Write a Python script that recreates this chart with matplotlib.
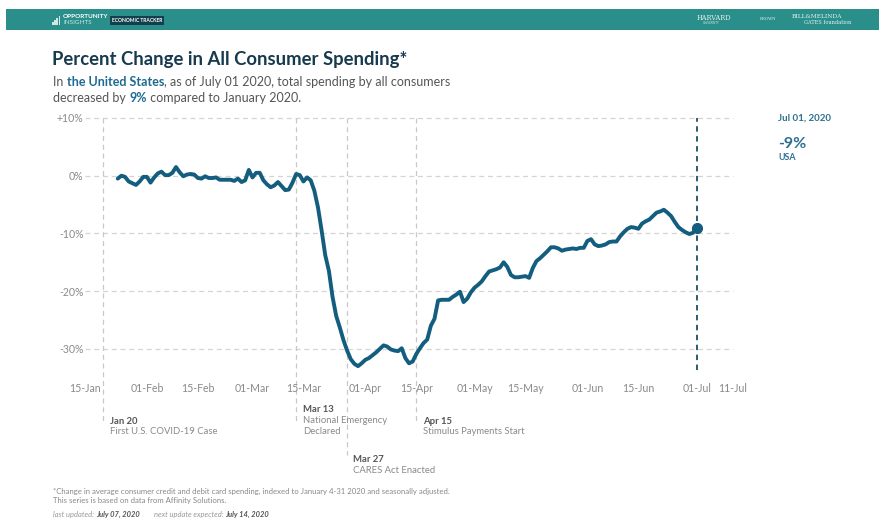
import datetime as dt
import numpy as np
import matplotlib.pyplot as plt
import matplotlib.dates as mdates
from matplotlib.patches import Rectangle

# data: daily % change in consumer spending, starting Jan 24 2020
start = dt.date(2020, 1, 24)
spending = [
    -0.5, 0.0, -0.2, -1.0, -1.3, -1.6, -1.0, -0.2, -0.2, -1.2,
    -0.3, 0.4, 0.7, 0.1, 0.1, 0.5, 1.5, 0.6, -0.1, 0.2,
    0.3, 0.2, -0.4, -0.5, -0.1, -0.4, -0.4, -0.3, -0.7, -0.7,
    -0.7, -0.7, -0.9, -0.5, -1.1, -0.8, 1.0, -0.3, 0.5, 0.5,
    -0.8, -1.5, -2.0, -1.7, -1.1, -1.8, -2.5, -2.4, -1.2, 0.3,
    0.1, -1.0, -0.3, -0.8, -2.6, -5.5, -9.5, -13.8, -16.5, -21.0,
    -24.3, -26.3, -28.5, -30.3, -31.8, -32.6, -33.0, -32.5, -31.9, -31.6,
    -31.1, -30.6, -30.0, -29.4, -29.6, -30.1, -30.3, -30.4, -29.9, -31.6,
    -32.5, -32.2, -30.9, -29.9, -29.0, -28.4, -26.0, -24.8, -21.6, -21.5,
    -21.5, -21.5, -21.0, -20.6, -20.1, -21.9, -21.3, -20.2, -19.4, -18.9,
    -18.3, -17.4, -16.6, -16.4, -16.2, -15.9, -15.0, -15.8, -17.2, -17.6,
    -17.6, -17.5, -17.4, -17.7, -16.0, -14.8, -14.3, -13.7, -13.1, -12.4,
    -12.4, -12.6, -13.0, -12.8, -12.7, -12.6, -12.7, -12.5, -12.5, -11.3,
    -11.0, -11.9, -12.2, -12.1, -11.9, -11.5, -11.4, -11.4, -10.5, -9.8,
    -9.2, -8.9, -9.0, -9.2, -8.3, -7.9, -7.6, -7.0, -6.4, -6.2,
    -5.9, -6.4, -7.0, -8.0, -8.9, -9.4, -9.8, -10.1, -9.9, -9.1,
]
dates = [start + dt.timedelta(days=i) for i in range(len(spending))]

tick_dates = [dt.date(2020, 1, 15), dt.date(2020, 2, 1), dt.date(2020, 2, 15),
              dt.date(2020, 3, 1), dt.date(2020, 3, 15), dt.date(2020, 4, 1),
              dt.date(2020, 4, 15), dt.date(2020, 5, 1), dt.date(2020, 5, 15),
              dt.date(2020, 6, 1), dt.date(2020, 6, 15), dt.date(2020, 7, 1),
              dt.date(2020, 7, 11)]
y_ticks = [10, 0, -10, -20, -30]
y_labels = ["+10%", "0%", "-10%", "-20%", "-30%"]

events = [dt.date(2020, 1, 20), dt.date(2020, 3, 13), dt.date(2020, 3, 27), dt.date(2020, 4, 15)]
event_titles = ["Jan 20", "Mar 13", "Mar 27", "Apr 15"]
event_texts = ["First U.S. COVID-19 Case", "National Emergency\nDeclared",
               "CARES Act Enacted", "Stimulus Payments Start"]

plt.rcParams['font.family'] = ['Lato', 'DejaVu Sans']

W, H = 884, 523
LINE = "#135d7e"
GREY = "#8a8a8a"

fig = plt.figure(figsize=(W / 100, H / 100), dpi=100)

def fx(px):
    return px / W

def fy(py):
    return 1 - py / H

# header bar
fig.patches.append(Rectangle((fx(6), fy(30)), fx(873), 21 / H, transform=fig.transFigure,
                             facecolor="#2a8f8a", edgecolor="none"))
for i, h in enumerate([3, 5, 7, 9]):
    fig.patches.append(Rectangle((fx(52 + i * 2.2), fy(25)), 1.6 / W, h / H,
                                 transform=fig.transFigure, facecolor="#cfe7e5", edgecolor="none"))
fig.text(fx(63), fy(16), "OPPORTUNITY", color="white", fontsize=4.6, fontweight="bold", va="center")
fig.text(fx(63), fy(22.5), "INSIGHTS", color="#cfe7e5", fontsize=4.6, va="center")
fig.text(fx(112), fy(20.5), "ECONOMIC TRACKER", color="white", fontsize=3.6, fontweight="bold",
         va="center", bbox=dict(boxstyle="square,pad=0.35", fc="#113f4e", ec="none"))
fig.text(fx(697), fy(17.5), "HARVARD", color="#e4f1f0", fontsize=4.8, family="DejaVu Serif", va="center")
fig.text(fx(703), fy(22.5), "UNIVERSITY", color="#cfe7e5", fontsize=2.2, va="center")
fig.text(fx(760), fy(18.5), "BROWN", color="#e4f1f0", fontsize=2.8, family="DejaVu Serif", va="center")
fig.text(fx(792), fy(16.5), "BILL&MELINDA", color="#e4f1f0", fontsize=4.2, family="DejaVu Serif", va="center")
fig.text(fx(804), fy(22.5), "GATES foundation", color="#e4f1f0", fontsize=3.6, family="DejaVu Serif", va="center")

# title and subtitle
fig.text(fx(52), fy(60), "Percent Change in All Consumer Spending*", fontsize=13.3,
         fontweight="bold", color="#173a4f", va="center")

renderer = fig.canvas.get_renderer()

def rich_line(x_px, y_px, parts, size=9.0):
    x = fx(x_px)
    for txt, bold in parts:
        t = fig.text(x, fy(y_px), txt, fontsize=size, va="center",
                     fontweight="bold" if bold else "normal",
                     color="#1d6a92" if bold else "#555555")
        bb = t.get_window_extent(renderer=renderer)
        x += bb.width / W

rich_line(53, 82, [("In ", False), ("the United States", True),
                   (", as of July 01 2020, total spending by all consumers", False)])
rich_line(53, 98, [("decreased by ", False), ("9%", True), (" compared to January 2020.", False)])

# main axes
top_px, bot_px = 118, 380
ax = fig.add_axes([fx(85), fy(bot_px), fx(733 - 85), (bot_px - top_px) / H])
ax.set_xlim(dt.date(2020, 1, 15), dt.date(2020, 7, 11))
ax.set_ylim(-35.4, 10)

for v in y_ticks:
    ax.axhline(v, color="#d4d4d4", lw=0.9, ls=(0, (4, 3)), zorder=1, clip_on=False)

ax.plot(dates, spending, color=LINE, lw=2.8, solid_capstyle="round",
        solid_joinstyle="round", zorder=3)
ax.plot(dates[-1], spending[-1], "o", color=LINE, ms=7, zorder=4)

# event lines extend below the axis
line_ends = [423, 423, 455, 423]
for d, end in zip(events, line_ends):
    ax.plot([d, d], [10, -35.4 - (end - bot_px) / (bot_px - top_px) * 45.4],
            color="#c8c8c8", lw=0.9, ls=(0, (4, 3)), clip_on=False, zorder=1)
ax.axvline(dates[-1], ymin=0.04, color="#1c4e68", lw=1.3, ls=(0, (3, 2.5)), zorder=2)

ax.set_xticks(tick_dates)
ax.xaxis.set_major_formatter(mdates.DateFormatter("%d-%b"))
ax.set_yticks(y_ticks)
ax.set_yticklabels(y_labels)
ax.tick_params(length=0, labelsize=7.6, colors=GREY, pad=1)
ax.tick_params(axis="x", pad=2)
for s in ax.spines.values():
    s.set_visible(False)
ax.patch.set_alpha(0)

# event annotations
ann_pos = [(110, 421), (303, 410), (353, 460), (423, 421)]
for (x, y), title, body in zip(ann_pos, event_titles, event_texts):
    fig.text(fx(x), fy(y), title, fontsize=6.8, fontweight="bold", color="#555555", va="center")
    fig.text(fx(x), fy(y + 6), body, fontsize=6.8, color=GREY, va="top", linespacing=1.25)

# right-side label
fig.text(fx(778), fy(118), "Jul 01, 2020", fontsize=7.0, fontweight="bold", color="#2e6f91", va="center")
fig.text(fx(778), fy(144), "-9%", fontsize=11.5, fontweight="bold", color="#2e6f91", va="center")
fig.text(fx(778), fy(158), "USA", fontsize=6.4, fontweight="bold", color="#2e6f91", va="center")

# footnotes
fig.text(fx(53), fy(491), "*Change in average consumer credit and debit card spending, indexed to "
         "January 4-31 2020 and seasonally adjusted.", fontsize=5.6, color="#888888", va="center")
fig.text(fx(53), fy(501), "This series is based on data from Affinity Solutions.",
         fontsize=5.6, color="#888888", va="center")
x0 = fx(53)
for txt, bold in [("last updated: ", False), ("July 07, 2020", True),
                  ("        next update expected: ", False), ("July 14, 2020", True)]:
    t = fig.text(x0, fy(514), txt, fontsize=5.4, style="italic", va="center",
                 fontweight="bold" if bold else "normal",
                 color="#555555" if bold else "#999999")
    x0 += t.get_window_extent(renderer=renderer).width / W

fig.savefig("out.png", dpi=100)
